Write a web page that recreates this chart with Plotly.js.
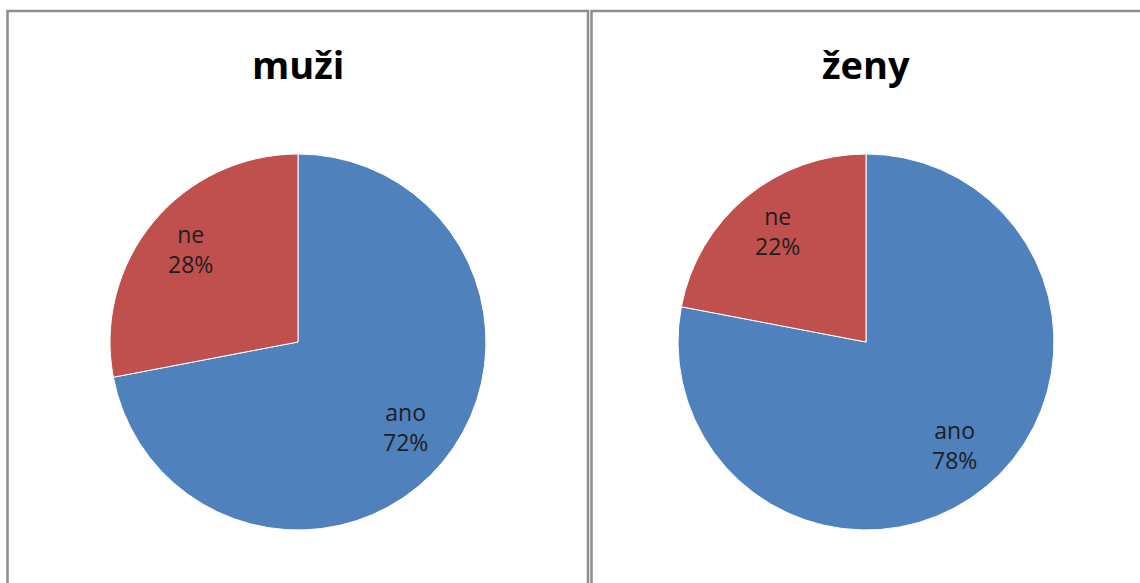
<!DOCTYPE html>
<html><head><meta charset="utf-8">
<script src="https://cdn.plot.ly/plotly-3.0.1.min.js"></script>
<style>html,body{margin:0;padding:0;background:#fff}#c{width:1140px;height:583px}</style>
</head><body><div id="c"></div>
<script>
const categories = ["ano", "ne"];
const titles = ["muži", "ženy"];
const valuesMuzi = [72, 28];
const valuesZeny = [78, 22];
const colors = ["#4f81bd", "#c0504d"];

const W = 1140, H = 583;
const px = x => x / W, py = y => 1 - y / H;
const R = 188, CY = 342;
const centers = [298, 866];
const FONT = "Open Sans, Liberation Sans, sans-serif";

function pieTrace(vals, cx) {
  return {
    type: "pie", labels: categories, values: vals, sort: false,
    direction: "clockwise", rotation: 0,
    marker: {colors: colors, line: {color: "#ffffff", width: 1}},
    textinfo: "none", hoverinfo: "none", showlegend: false,
    domain: {x: [px(cx - R), px(cx + R)], y: [py(CY + R), py(CY - R)]}
  };
}

// data labels placed on each slice's bisector, derived from the values
function sliceLabels(vals, cx) {
  const total = vals.reduce((a, b) => a + b, 0);
  let cum = 0;
  return vals.map((v, i) => {
    const mid = (cum + v / 2) / total * 2 * Math.PI;
    cum += v;
    const r = 0.74 * R;
    const x = cx + r * Math.sin(mid), y = CY - r * Math.cos(mid) - 4;
    return {
      text: categories[i] + "<br>" + Math.round(v / total * 100) + "%",
      xref: "paper", yref: "paper", x: px(x), y: py(y),
      xanchor: "center", yanchor: "middle", showarrow: false, align: "center",
      font: {family: FONT, size: 23, color: "#1e1e1e"}
    };
  });
}

const data = [pieTrace(valuesMuzi, centers[0]), pieTrace(valuesZeny, centers[1])];
const border = {color: "#8e8e8e", width: 2.5};
const titleAnns = titles.map((t, i) => ({
  text: "<b>" + t + "</b>", xref: "paper", yref: "paper", x: px(centers[i]), y: py(64),
  xanchor: "center", yanchor: "middle", showarrow: false,
  font: {family: FONT, size: 38, color: "#000"}
}));
const layout = {
  width: W, height: H, margin: {l: 0, r: 0, t: 0, b: 0},
  paper_bgcolor: "#ffffff", plot_bgcolor: "#ffffff",
  shapes: [
    {type: "rect", xref: "paper", yref: "paper", x0: px(7.5), x1: px(588), y0: py(600), y1: py(11), line: border},
    {type: "rect", xref: "paper", yref: "paper", x0: px(591.5), x1: px(1150), y0: py(600), y1: py(11), line: border}
  ],
  annotations: titleAnns.concat(sliceLabels(valuesMuzi, centers[0]), sliceLabels(valuesZeny, centers[1]))
};
Plotly.newPlot("c", data, layout, {displayModeBar: false, staticPlot: true});
</script></body></html>
